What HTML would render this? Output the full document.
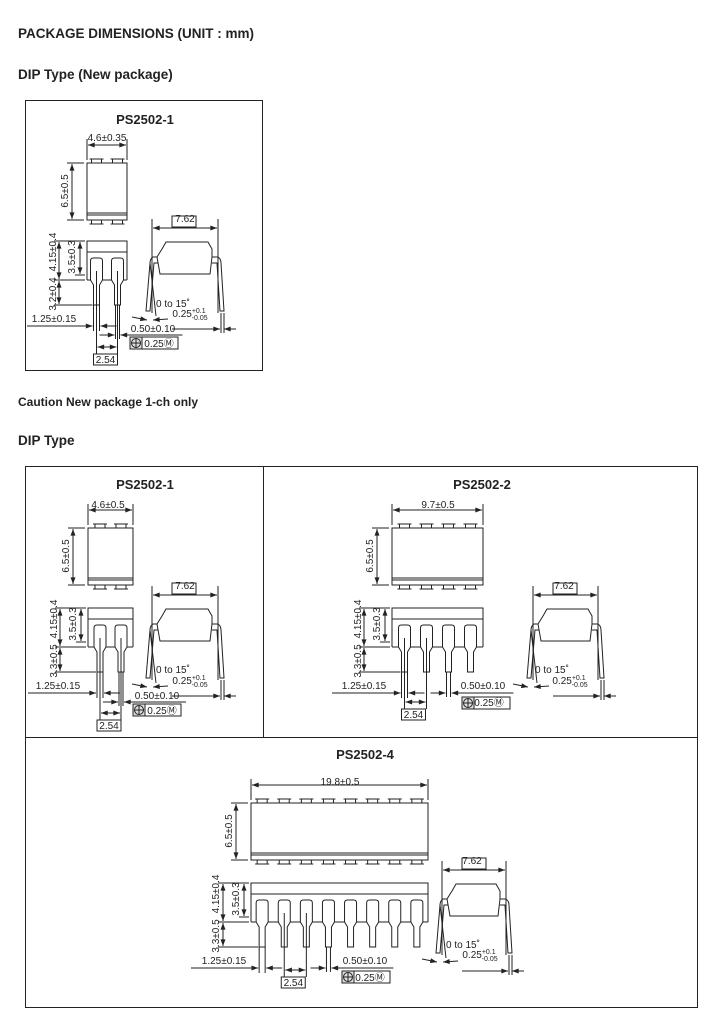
<!DOCTYPE html>
<html><head><meta charset="utf-8"><style>
body{margin:0;background:#fff;width:717px;height:1017px;overflow:hidden}
svg{display:block}
text{font-family:"Liberation Sans",sans-serif;fill:#222}
.h{font-weight:bold;font-size:13.5px}
.t{font-weight:bold;font-size:13px}
.s{font-size:10px}
</style></head><body>
<svg id="s" width="717" height="1017" viewBox="0 0 717 1017" xmlns="http://www.w3.org/2000/svg">
<defs><marker id="a" viewBox="0 0 8 6" refX="8" refY="3" markerWidth="7" markerHeight="5" orient="auto-start-reverse"><path d="M0,0L8,3L0,6z" fill="#222"/></marker></defs>
<text class="h" x="18" y="38">PACKAGE  DIMENSIONS (UNIT : mm)</text>
<text class="h" x="18" y="79">DIP Type (New package)</text>
<text class="t" x="18" y="406" style="font-size:12px">Caution  New package 1-ch only</text>
<text class="h" x="18" y="445">DIP Type</text>
<g fill="none" stroke="#222" stroke-width="1">
<rect x="25.5" y="100.5" width="237" height="270"/>
<rect x="25.5" y="466.5" width="672" height="541"/>
<line x1="263.5" y1="466" x2="263.5" y2="737"/>
<line x1="25" y1="737.5" x2="698" y2="737.5"/>
</g>
<g id="g" fill="none" stroke="#222" stroke-width="1"></g>
<g class="s" text-anchor="middle">
<!-- A -->
<text class="t" x="145" y="124">PS2502-1</text>
<text x="107" y="141">4.6±0.35</text>
<text transform="translate(68,191) rotate(-90)">6.5±0.5</text>
<text transform="translate(56,252) rotate(-90)">4.15±0.4</text>
<text transform="translate(75,257) rotate(-90)">3.5±0.3</text>
<text transform="translate(56,294) rotate(-90)">3.2±0.4</text>
<text x="54" y="322">1.25±0.15</text>
<text x="153" y="332">0.50±0.10</text>
<text x="159" y="347">0.25Ⓜ</text>
<text x="105.5" y="363">2.54</text>
<text x="185" y="222">7.62</text>
<text x="173" y="307">0 to 15˚</text>
<text x="190" y="317">0.25<tspan font-size="7" dy="-4">+0.1</tspan><tspan font-size="7" dx="-14" dy="7">-0.05</tspan></text>
<!-- B -->
<text class="t" x="145" y="489">PS2502-1</text>
<text x="108" y="508">4.6±0.5</text>
<text transform="translate(69,556) rotate(-90)">6.5±0.5</text>
<text transform="translate(57,619) rotate(-90)">4.15±0.4</text>
<text transform="translate(76,624) rotate(-90)">3.5±0.3</text>
<text transform="translate(57,661) rotate(-90)">3.3±0.5</text>
<text x="58" y="689">1.25±0.15</text>
<text x="157" y="699">0.50±0.10</text>
<text x="162" y="714">0.25Ⓜ</text>
<text x="109" y="729">2.54</text>
<text x="185" y="589">7.62</text>
<text x="173" y="673">0 to 15˚</text>
<text x="190" y="684">0.25<tspan font-size="7" dy="-4">+0.1</tspan><tspan font-size="7" dx="-14" dy="7">-0.05</tspan></text>
<!-- C -->
<text class="t" x="482" y="489">PS2502-2</text>
<text x="438" y="508">9.7±0.5</text>
<text transform="translate(373,556) rotate(-90)">6.5±0.5</text>
<text transform="translate(361,619) rotate(-90)">4.15±0.4</text>
<text transform="translate(380,624) rotate(-90)">3.5±0.3</text>
<text transform="translate(361,661) rotate(-90)">3.3±0.5</text>
<text x="364" y="689">1.25±0.15</text>
<text x="483" y="689">0.50±0.10</text>
<text x="489" y="706">0.25Ⓜ</text>
<text x="413.5" y="718">2.54</text>
<text x="564" y="589">7.62</text>
<text x="552" y="673">0 to 15˚</text>
<text x="570" y="684">0.25<tspan font-size="7" dy="-4">+0.1</tspan><tspan font-size="7" dx="-14" dy="7">-0.05</tspan></text>
<!-- D -->
<text class="t" x="365" y="759">PS2502-4</text>
<text x="340" y="785">19.8±0.5</text>
<text transform="translate(232,831) rotate(-90)">6.5±0.5</text>
<text transform="translate(219,894) rotate(-90)">4.15±0.4</text>
<text transform="translate(239,899) rotate(-90)">3.5±0.3</text>
<text transform="translate(219,936) rotate(-90)">3.3±0.5</text>
<text x="224" y="964">1.25±0.15</text>
<text x="365" y="964">0.50±0.10</text>
<text x="370" y="981">0.25Ⓜ</text>
<text x="293.3" y="986">2.54</text>
<text x="472" y="864">7.62</text>
<text x="463" y="948">0 to 15˚</text>
<text x="480" y="958">0.25<tspan font-size="7" dy="-4">+0.1</tspan><tspan font-size="7" dx="-14" dy="7">-0.05</tspan></text>
</g>
</svg>
<script>
var g=document.getElementById('g'),NS='http://www.w3.org/2000/svg';
function el(t,a){var e=document.createElementNS(NS,t);for(var k in a)e.setAttribute(k,a[k]);g.appendChild(e);return e}
function L(x1,y1,x2,y2){el('line',{x1:x1,y1:y1,x2:x2,y2:y2})}
function D(x1,y1,x2,y2){el('line',{x1:x1,y1:y1,x2:x2,y2:y2,'marker-start':'url(#a)','marker-end':'url(#a)'})}
function A(x1,y1,x2,y2){el('line',{x1:x1,y1:y1,x2:x2,y2:y2,'marker-end':'url(#a)'})}
function R(x,y,w,h,f){el('rect',{x:x,y:y,width:w,height:h,fill:f||'none'})}
function pkg(o){
 var x0=o.x,y0=o.y,W=o.W,n=o.n,p=o.p,H=57,y1=o.y1;
 var off=(W-(n-1)*p)/2,pins=[];for(var i=0;i<n;i++)pins.push(x0+off+i*p);
 // top view
 R(x0,y0,W,H);L(x0,y0+H-7,x0+W,y0+H-7);L(x0,y0+H-5,x0+W,y0+H-5);
 pins.forEach(function(c){R(c-5,y0-4,10,4,'#fff');R(c-5,y0+H,10,4,'#fff');L(c-7,y0-4,c+7,y0-4);L(c-7,y0+H+4,c+7,y0+H+4)});
 L(x0,y0-3,x0,y0-24);L(x0+W,y0-3,x0+W,y0-24);D(x0+1,y0-18,x0+W-1,y0-18);
 L(x0-20,y0,x0-3,y0);L(x0-20,y0+H,x0-3,y0+H);D(x0-15,y0+1,x0-15,y0+H-1);
 // side view
 R(x0,y1,W,11);L(x0,y1+11,x0,y1+39);L(x0+W,y1+11,x0+W,y1+39);L(x0,y1+39,x0+W,y1+39);
 pins.forEach(function(c){el('path',{d:'M'+(c-6)+','+(y1+39)+'V'+(y1+20)+'Q'+(c-6)+','+(y1+17)+' '+(c-3)+','+(y1+17)+'H'+(c+3)+'Q'+(c+6)+','+(y1+17)+' '+(c+6)+','+(y1+20)+'V'+(y1+39)+'L'+(c+3)+','+(y1+44)+'V'+(y1+64)+'H'+(c-3)+'V'+(y1+44)+'Z',fill:'#fff'});});
 L(x0-33,y1,x0-2,y1);L(x0-33,y1+39,x0-2,y1+39);L(x0-33,y1+64,pins[0]-4,y1+64);L(x0-12,y1+34,x0-2,y1+34);
 D(x0-28,y1+1,x0-28,y1+38);D(x0-7,y1+1,x0-7,y1+33);D(x0-28,y1+40,x0-28,y1+63);
 var c0=pins[0],ly=y1+85;
 L(c0-3,y1+64,c0-3,ly+5);L(c0+3,y1+64,c0+3,ly+5);
 A(x0-60,ly,c0-4,ly);A(c0+20,ly,c0+4,ly);
 var pj=pins[o.j],pk=pins[o.j+1],by2=y1+o.py;
 L(pj,y1+30,pj,by2);L(pk,y1+30,pk,by2);
 D(pj+1,by2-7,pk-1,by2-7);R(pj-3,by2,24,11);
 var cl=pins[o.k],y5=y1+o.ly;L(cl-2,y1+64,cl-2,y5+4);L(cl+2,y1+64,cl+2,y5+4);
 A(cl-18,y5,cl-3,y5);A(cl+18,y5,cl+3,y5);L(cl+18,y5,cl+65,y5);
 var bx=o.bx,by=o.by;R(bx,by,48,12);R(bx,by,12,12,'#ddd');
 el('circle',{cx:bx+6,cy:by+6,r:4.5});L(bx+1,by+6,bx+11,by+6);L(bx+6,by+1,bx+6,by+11);
 // end view
 var ex=o.ex,ey=y1,ew=o.ew;
 L(ex,ey-22,ex,ey+72);L(ex+ew,ey-22,ex+ew,ey+72);D(ex+1,ey-13,ex+ew-1,ey-13);R(ex+20,ey-25,24,11);
 el('path',{d:'M'+(ex+10)+','+(ey+8)+'L'+(ex+14)+','+(ey+1)+'H'+(ex+ew-10)+'L'+(ex+ew-6)+','+(ey+8)+'V'+(ey+16)+'L'+(ex+ew-8)+','+(ey+33)+'H'+(ex+8)+'L'+(ex+5)+','+(ey+16)+'Z',fill:'#fff'});
 el('path',{d:'M'+(ex+5)+','+(ey+16)+'H'+(ex+1)+'Q'+(ex-2)+','+(ey+18)+' '+(ex-2)+','+(ey+22)+'L'+(ex-6)+','+(ey+70)+'H'+(ex-2)+'L'+(ex+2)+','+(ey+22)+'H'+(ex+6)});
 el('path',{d:'M'+(ex+ew-6)+','+(ey+16)+'H'+(ex+ew)+'Q'+(ex+ew+3)+','+(ey+18)+' '+(ex+ew+3)+','+(ey+22)+'L'+(ex+ew+6)+','+(ey+70)+'H'+(ex+ew+2)+'L'+(ex+ew-1)+','+(ey+22)+'H'+(ex+ew-6)});
 L(ex-2,ey+22,ex+4,ey+75);
 A(ex-20,ey+76,ex-5,ey+79);A(ex+16,ey+78,ex+1,ey+79);
 L(ex+20,ey+88,ex+ew+1,ey+88);A(ex+ew-10,ey+88,ex+ew+2,ey+88);A(ex+ew+18,ey+88,ex+ew+6,ey+88);
 L(ex+ew+3,ey+72,ex+ew+3,ey+92);L(ex+ew+6,ey+72,ex+ew+6,ey+92);
}
pkg({x:87,y:163,y1:241,W:40,n:2,p:21,ex:152,ew:66,k:1,j:0,ly:94,py:113,bx:130,by:337});
pkg({x:88,y:528,y1:608,W:45,n:2,p:21,ex:152,ew:66,k:1,j:0,ly:94,py:112,bx:133,by:704});
pkg({x:392,y:528,y1:608,W:91,n:4,p:22,ex:533,ew:65,k:2,j:0,ly:85,py:101,bx:462,by:697});
pkg({x:251,y:803,y1:883,W:177,n:8,p:22.1,ex:442,ew:64,k:3,j:1,ly:85,py:94,bx:342,by:971});
</script>
</body></html>
